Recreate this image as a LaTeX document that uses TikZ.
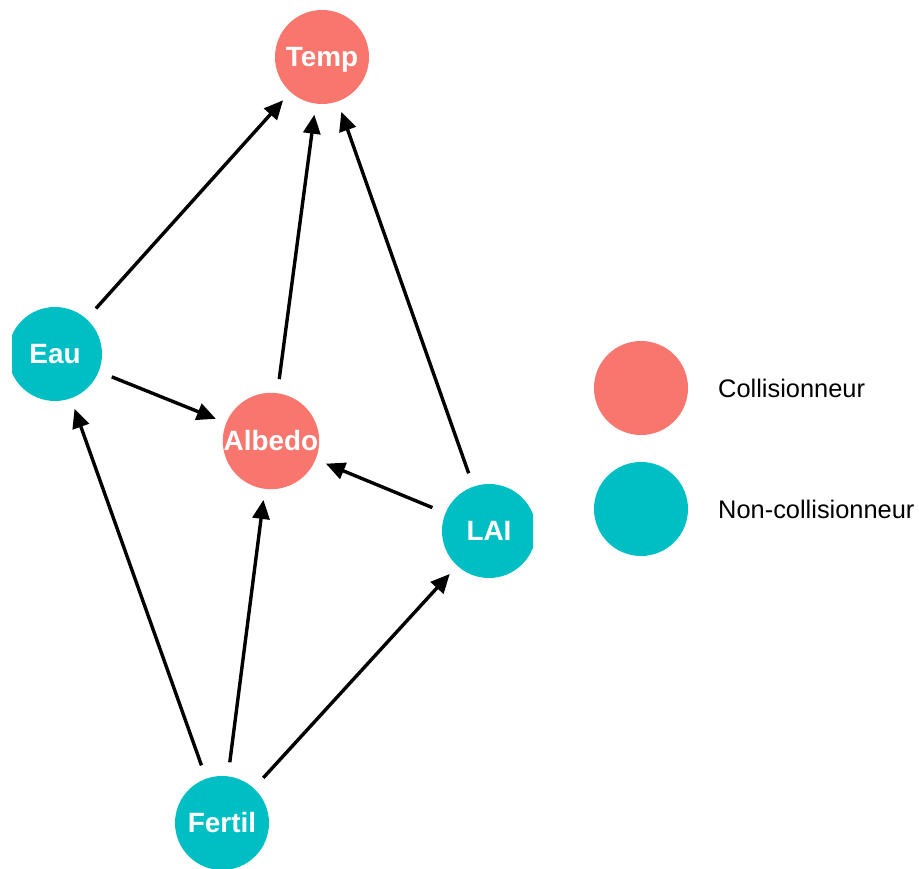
\documentclass[tikz,border=0pt]{standalone}
\usepackage{fontspec}
\setmainfont{Liberation Sans}
\usepackage{tikz}
\usetikzlibrary{arrows.meta}
\definecolor{collcol}{HTML}{F8766D}
\definecolor{noncollcol}{HTML}{00BFC4}
\tikzstyle{arrow} = [line width=3.4bp, -{Triangle[length=19bp,width=17bp]}, shorten >=11bp, shorten <=14bp]
\tikzstyle{dagnode} = [circle, minimum size=94bp, inner sep=0pt, text=white,
text height=20bp, text depth=0pt, font=\fontsize{28}{32}\selectfont\bfseries]
\tikzstyle{collnode} = [dagnode, fill=collcol]
\tikzstyle{noncollnode} = [dagnode, fill=noncollcol]
\tikzstyle{keytext} = [anchor=west, inner sep=0pt, font=\fontsize{25.5}{30}\selectfont]

\begin{document}
\begin{tikzpicture}[x=1bp, y=1bp]
      \useasboundingbox (0,0) rectangle (919,869);
      \begin{scope}
      \clip (12,0) rectangle (533,869);
      \node (0) [collnode] at (322,812) {Temp};
      \node (1) [noncollnode] at (55,515) {Eau};
      \node (2) [collnode] at (271,428) {Albedo};
      \node (3) [noncollnode] at (489,338) {LAI};
      \node (4) [noncollnode] at (222,46) {Fertil};

      \draw [arrow] (1) -- (0);
      \draw [arrow] (2) -- (0);
      \draw [arrow] (3) -- (0);
      \draw [arrow] (1) -- (2);
      \draw [arrow] (3) -- (2);
      \draw [arrow] (4) -- (1);
      \draw [arrow] (4) -- (2);
      \draw [arrow] (4) -- (3);
      \end{scope}

      % legend
      \node (5) [collnode] at (641,481) {};
      \node (6) [noncollnode] at (641,360) {};
      \node (7) [keytext] at (718,481) {Collisionneur};
      \node (8) [keytext] at (718,360) {Non-collisionneur};
    \end{tikzpicture}
\end{document}
